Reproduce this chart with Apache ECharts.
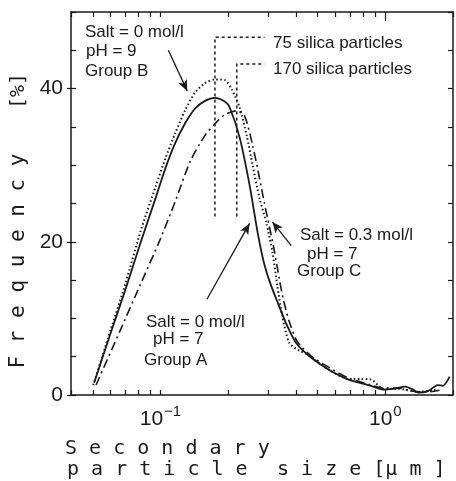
<!DOCTYPE html>
<html>
<head>
<meta charset="utf-8">
<script src="https://cdn.jsdelivr.net/npm/echarts@6/dist/echarts.min.js"></script>
<style>
  html, body { margin: 0; padding: 0; background: #fff; }
  #chart { width: 456px; height: 481px; }
</style>
</head>
<body>
<div id="chart"></div>
<script>
// Group A : salt = 0 mol/l, pH = 7 (solid)
const groupA_x = [0.0507, 0.0602, 0.0701, 0.0816, 0.0951, 0.1052, 0.1164, 0.1289, 0.1426, 0.1578, 0.1747, 0.1933, 0.2034, 0.2251, 0.2491, 0.2702, 0.2872, 0.3051, 0.3277, 0.3627, 0.4013, 0.4673, 0.5611, 0.6871, 0.8415, 0.98, 1.084, 1.225, 1.329, 1.398, 1.547, 1.712, 1.801, 1.934]
const groupA_y = [1.6, 8.2, 13.9, 19.9, 25.7, 29.6, 32.9, 35.5, 37.4, 38.4, 38.8, 38.3, 37.5, 33.6, 27.4, 21.3, 17.5, 14.9, 12.5, 9.3, 6.8, 4.9, 3.3, 2.0, 1.3, 0.7, 0.8, 1.1, 0.7, 0.3, 0.5, 1.3, 1.2, 2.4]

// Group B : salt = 0 mol/l, pH = 9 (dotted)
const groupB_x = [0.0502, 0.0602, 0.0701, 0.0816, 0.0951, 0.1052, 0.1164, 0.1289, 0.1426, 0.1578, 0.1747, 0.1933, 0.2076, 0.2251, 0.2417, 0.2569, 0.2757, 0.2961, 0.3146, 0.3311, 0.3483, 0.3739, 0.4138, 0.4487, 0.5611, 0.6871, 0.7761, 0.8676, 0.98, 1.141, 1.398, 1.678]
const groupB_y = [1.3, 8.6, 14.7, 21.4, 27.2, 30.9, 34.2, 37.2, 39.5, 40.7, 41.2, 41.1, 39.9, 37.5, 33.9, 30.0, 25.7, 22.4, 18.7, 14.2, 10.3, 6.8, 5.8, 5.3, 3.3, 2.1, 2.1, 2.0, 0.8, 0.8, 0.4, 0.7]

// Group C : salt = 0.3 mol/l, pH = 7 (dash-dot)
const groupC_x = [0.0517, 0.0666, 0.0816, 0.1, 0.1164, 0.1356, 0.1578, 0.1747, 0.1933, 0.2184, 0.2368, 0.2569, 0.2757, 0.2901, 0.3051, 0.3211, 0.3379, 0.3518, 0.3739, 0.4055, 0.4673, 0.5611, 0.6871, 0.8415, 0.98, 1.141, 1.329, 1.547, 1.801]
const groupC_y = [1.3, 8.6, 14.5, 20.4, 25.3, 30.5, 33.9, 35.4, 36.6, 37.1, 36.4, 32.6, 28.3, 25.0, 22.0, 18.8, 15.1, 12.5, 9.6, 7.0, 5.1, 3.6, 2.2, 1.4, 0.9, 0.9, 0.5, 0.4, 0.7]

// reference markers
const silica75_x = [0.1747, 0.1747, 0.29]
const silica75_y = [23.3, 46.7, 46.7]
const silica170_x = [0.2184, 0.2184, 0.29]
const silica170_y = [23.3, 43.2, 43.2]

// arrows [fromX, fromY, toX, toY]
const arrowB = [0.1084, 45.0, 0.1315, 39.7]
const arrowA = [0.161, 12.5, 0.249, 22.4]
const arrowC = [0.3816, 19.5, 0.3147, 22.6]

// axes
const xMin = 0.04
const xMax = 2
const xMinorTicks = [0.04, 0.05, 0.06, 0.07, 0.08, 0.09, 0.2, 0.3, 0.4, 0.5, 0.6, 0.7, 0.8, 0.9, 2]
const xMajorTicks = [0.1, 1]
const yMin = 0
const yMax = 50
const yLabels = [0, 20, 40]

const ink = '#1a1a1a'
const pairs = (xs, ys) => xs.map((x, i) => [x, ys[i]])

function arrowLine(a) {
  return [
    { coord: [a[0], a[1]], symbol: 'none' },
    { coord: [a[2], a[3]], symbol: 'arrow', symbolSize: [7, 11] }
  ]
}

const chart = echarts.init(document.getElementById('chart'))

const xBase = { type: 'log', min: xMin, max: xMax, logBase: 10, splitLine: { show: false } }
const yBase = { type: 'value', min: yMin, max: yMax, interval: 5, splitLine: { show: false } }

const option = {
  animation: false,
  backgroundColor: '#fff',
  grid: { left: 71, right: 3, top: 12, bottom: 86 },
  xAxis: [
    {
      ...xBase,
      position: 'bottom',
      axisLine: { onZero: false, lineStyle: { color: ink, width: 1.5 } },
      axisTick: { inside: true, length: 5, customValues: xMinorTicks.concat(xMajorTicks), lineStyle: { color: ink, width: 1.2 } },
      axisLabel: {
        customValues: xMajorTicks,
        margin: 6,
        formatter: v => '{b|10}{e|' + (Math.round(Math.log10(v)) < 0 ? '\u2212' : '') + Math.abs(Math.round(Math.log10(v))) + '}',
        rich: {
          b: { fontSize: 21, fontFamily: 'Liberation Sans', color: ink, lineHeight: 36, verticalAlign: 'middle' },
          e: { fontSize: 15, fontFamily: 'Liberation Sans', color: ink, lineHeight: 36, verticalAlign: 'top', padding: [3, 0, 0, 1] }
        }
      }
    },
    {
      ...xBase,
      position: 'top',
      axisLine: { onZero: false, lineStyle: { color: ink, width: 1.5 } },
      axisTick: { inside: true, length: 5, customValues: xMinorTicks.concat([0.1]), lineStyle: { color: ink, width: 1.2 } },
      axisLabel: { show: false }
    },
    {
      ...xBase,
      position: 'top',
      axisLine: { show: false, onZero: false },
      axisTick: { inside: true, length: 9, customValues: [1], lineStyle: { color: ink, width: 1.2 } },
      axisLabel: { show: false }
    }
  ],
  yAxis: [
    {
      ...yBase,
      position: 'left',
      axisLine: { show: true, onZero: false, lineStyle: { color: ink, width: 1.5 } },
      axisTick: { show: true, inside: true, length: 5, lineStyle: { color: ink, width: 1.2 } },
      axisLabel: { customValues: yLabels, margin: 8, fontSize: 21, fontFamily: 'Liberation Sans', color: ink }
    },
    {
      ...yBase,
      position: 'left',
      axisLine: { show: false, onZero: false },
      axisTick: { show: true, inside: false, length: 4, customValues: yLabels, lineStyle: { color: ink, width: 1.2 } },
      axisLabel: { show: false }
    },
    {
      ...yBase,
      position: 'right',
      axisLine: { show: true, onZero: false, lineStyle: { color: ink, width: 1.5 } },
      axisTick: { show: true, inside: true, length: 5, lineStyle: { color: ink, width: 1.2 } },
      axisLabel: { show: false }
    }
  ],
  series: [
    {
      name: 'Group A', type: 'line', data: pairs(groupA_x, groupA_y), showSymbol: false, smooth: 0.25,
      lineStyle: { color: ink, width: 1.8 }
    },
    {
      name: 'Group B', type: 'line', data: pairs(groupB_x, groupB_y), showSymbol: false, smooth: 0.25,
      lineStyle: { color: ink, width: 2, type: [1.5, 2.5] }
    },
    {
      name: 'Group C', type: 'line', data: pairs(groupC_x, groupC_y), showSymbol: false, smooth: 0.25,
      lineStyle: { color: ink, width: 1.6, type: [9, 4, 2, 4] }
    },
    {
      name: '75 silica particles', type: 'line', data: pairs(silica75_x, silica75_y), showSymbol: false,
      lineStyle: { color: ink, width: 1.5, type: [3, 3] }
    },
    {
      name: '170 silica particles', type: 'line', data: pairs(silica170_x, silica170_y), showSymbol: false,
      lineStyle: { color: ink, width: 1.5, type: [3, 3] }
    },
    {
      name: 'arrows', type: 'line', data: [],
      markLine: {
        silent: true, animation: false,
        label: { show: false },
        lineStyle: { color: ink, width: 1.3, type: 'solid' },
        data: [arrowLine(arrowB), arrowLine(arrowA), arrowLine(arrowC)]
      }
    }
  ],
  graphic: [
    ...[
      ['Salt = 0 mol/l', 85, 32], ['pH = 9', 86, 51], ['Group B', 85, 71],
      ['75 silica particles', 273, 43], ['170 silica particles', 273, 69],
      ['Salt = 0.3 mol/l', 300, 235], ['pH = 7', 307, 254], ['Group C', 297, 271],
      ['Salt = 0 mol/l', 146, 322], ['pH = 7', 153, 339], ['Group A', 144, 360]
    ].map(t => ({
      type: 'text', x: t[1], y: t[2],
      style: { text: t[0], font: '17px "Liberation Sans", Arial, sans-serif', fill: ink, align: 'left', verticalAlign: 'middle' }
    })),
    {
      type: 'text', x: 19, y: 261, rotation: Math.PI / 2,
      style: { text: 'F r e q u e n c y', font: '21px "DejaVu Sans Mono", monospace', fill: ink, align: 'center', verticalAlign: 'middle' }
    },
    {
      type: 'text', x: 19, y: 91, rotation: Math.PI / 2,
      style: { text: '[%]', font: '20px "DejaVu Sans Mono", monospace', fill: ink, align: 'center', verticalAlign: 'middle' }
    },
    {
      type: 'text', x: 65, y: 449,
      style: { text: 'S e c o n d a r y', font: '20px "DejaVu Sans Mono", monospace', fill: ink, align: 'left', verticalAlign: 'middle' }
    },
    {
      type: 'text', x: 67, y: 470,
      style: { text: 'p a r t i c l e', font: '20px "DejaVu Sans Mono", monospace', fill: ink, align: 'left', verticalAlign: 'middle' }
    },
    {
      type: 'text', x: 277, y: 470,
      style: { text: 's i z e [\u03bc m ]', font: '20px "DejaVu Sans Mono", monospace', fill: ink, align: 'left', verticalAlign: 'middle' }
    }
  ]
}

chart.setOption(option)
</script>
</body>
</html>
